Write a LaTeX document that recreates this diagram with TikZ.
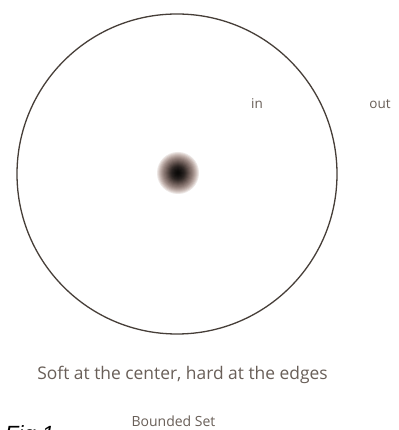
\documentclass[tikz,border=0pt]{standalone}
\usepackage{fontspec}
\setmainfont{Open Sans}
\newfontfamily\figfont{Liberation Sans}
\definecolor{ink}{RGB}{70,62,56}
\definecolor{txt}{RGB}{105,95,88}
\definecolor{halo}{RGB}{150,120,110}
\tikzset{
  lbl/.style={inner sep=0pt, text=txt},
}
\begin{document}
\begin{tikzpicture}[x=1pt,y=1pt]
\useasboundingbox (0,0) rectangle (398,430);
\clip (0,0) rectangle (398,430);
\fill[white] (0,0) rectangle (398,430);
\node[circle, minimum size=320pt, draw=ink, line width=1.3pt, inner sep=0pt] (set) at (177,256) {};
\coordinate (dot) at (178,257);
\foreach \r in {21,20,...,1}{
  \pgfmathsetmacro\m{max(0,min(100,100*(\r-8)/12))}
  \fill[halo!\m!black, opacity=0.18] (dot) circle (\r);
}
\node[lbl, font=\fontsize{13.5}{16}\selectfont] (in) at (257,326) {in};
\node[lbl, font=\fontsize{13.5}{16}\selectfont] (out) at (380,326) {out};
\node[lbl, anchor=base, font=\fontsize{17.4}{20}\selectfont] (soft) at (182.5,50) {Soft at the center, hard at the edges};
\node[lbl, anchor=base, font=\fontsize{14}{17}\selectfont] (bounded) at (173.5,3) {Bounded Set};
\node[inner sep=0pt, anchor=base west, font=\figfont\itshape\fontsize{22}{26}\selectfont, text=black] (fig) at (5,-11) {Fig 1};
\end{tikzpicture}
\end{document}
